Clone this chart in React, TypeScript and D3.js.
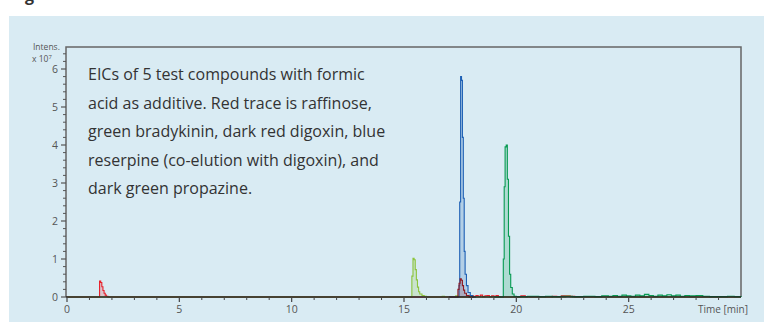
import * as d3 from "d3";

// retention times (min) and intensities (x 10^7)
const raffinoseT = [0, 1.4, 1.45, 1.5, 1.55, 1.6, 1.65, 1.7, 1.75, 1.82, 17.9, 18.0, 18.1, 18.2, 18.3, 18.4, 18.5, 18.6, 18.7, 18.8, 18.9, 19.0, 19.1, 19.2, 19.3, 20.2, 20.4, 20.6, 21.6, 21.8, 22.0, 22.4, 22.6, 30];
const raffinoseV = [0, 0, 0.42, 0.38, 0.27, 0.17, 0.1, 0.05, 0.02, 0, 0, 0.03, 0.01, 0.04, 0.02, 0.05, 0.01, 0.03, 0.04, 0.01, 0.03, 0.02, 0.04, 0.01, 0, 0.03, 0.01, 0, 0.02, 0.01, 0.03, 0.02, 0, 0];

const bradykininT = [0, 15.3, 15.35, 15.4, 15.45, 15.5, 15.55, 15.6, 15.65, 15.7, 15.8, 15.9, 16.0, 16.6, 16.7, 16.8, 17.2, 17.3, 17.4, 22.0, 22.2, 22.4, 30];
const bradykininV = [0, 0, 0.55, 1.02, 0.98, 0.72, 0.45, 0.26, 0.14, 0.08, 0.04, 0.02, 0, 0, 0.02, 0, 0, 0.03, 0, 0, 0.02, 0, 0];

const reserpineT = [17.0, 17.4, 17.45, 17.48, 17.52, 17.56, 17.6, 17.64, 17.68, 17.72, 17.78, 17.85, 17.95, 18.05, 18.2];
const reserpineV = [0, 0, 0.3, 2.5, 5.8, 5.7, 4.2, 2.6, 1.2, 0.6, 0.3, 0.12, 0.04, 0, 0];

const digoxinT = [17.0, 17.35, 17.4, 17.45, 17.5, 17.55, 17.6, 17.65, 17.7, 17.78, 17.9, 18.1];
const digoxinV = [0, 0, 0.2, 0.36, 0.48, 0.44, 0.3, 0.18, 0.1, 0.04, 0, 0];

const propazineT = [19.0, 19.38, 19.42, 19.46, 19.5, 19.55, 19.6, 19.65, 19.7, 19.75, 19.82, 19.9, 20.0, 20.5, 21.0, 21.3, 21.6, 22.0, 22.5, 23.0, 23.5, 23.8, 24.1, 24.3, 24.5, 24.7, 24.9, 25.1, 25.3, 25.5, 25.7, 25.9, 26.1, 26.3, 26.5, 26.7, 26.9, 27.1, 27.3, 27.5, 27.7, 28.0, 28.3, 28.6, 29.0, 29.4, 29.7, 30];
const propazineV = [0, 0, 1.0, 2.9, 3.95, 4.0, 3.1, 1.6, 0.6, 0.25, 0.08, 0.02, 0.01, 0.02, 0.01, 0.02, 0.01, 0.02, 0.01, 0.02, 0.01, 0.03, 0.02, 0.04, 0.02, 0.05, 0.03, 0.02, 0.05, 0.03, 0.07, 0.04, 0.02, 0.05, 0.03, 0.06, 0.03, 0.05, 0.02, 0.04, 0.03, 0.04, 0.02, 0.01, 0.01, 0.02, 0.01, 0];

const traces = [
  { name: "raffinose", t: raffinoseT, v: raffinoseV, color: "#e8202a" },
  { name: "bradykinin", t: bradykininT, v: bradykininV, color: "#8cc43c" },
  { name: "propazine", t: propazineT, v: propazineV, color: "#079a52" },
  { name: "reserpine", t: reserpineT, v: reserpineV, color: "#1d5fb4" },
  { name: "digoxin", t: digoxinT, v: digoxinV, color: "#8e1b22" },
];

const yTicks = [0, 1, 2, 3, 4, 5, 6];
const xTicks = [0, 5, 10, 15, 20, 25];

const noteLines = [
  "EICs of 5 test compounds with formic",
  "acid as additive. Red trace is raffinose,",
  "green bradykinin, dark red digoxin, blue",
  "reserpine (co-elution with digoxin), and",
  "dark green propazine.",
];

const W = 764;
const H = 322;
const m = { left: 66, top: 47, right: 741, bottom: 297 };

export default function App() {
  const x = d3.scaleLinear().domain([0, 30]).range([m.left + 1, m.right]);
  const y = d3.scaleLinear().domain([0, 6]).range([m.bottom, 69]);

  const line = d3
    .line<[number, number]>()
    .x((d) => x(d[0]))
    .y((d) => y(d[1]))
    .curve(d3.curveStepAfter);
  const area = d3
    .area<[number, number]>()
    .x((d) => x(d[0]))
    .y0(y(0))
    .y1((d) => y(d[1]))
    .curve(d3.curveStepAfter);

  const minorY = d3.range(0, 6.6, 0.2).filter((v) => Math.abs(v - Math.round(v)) > 0.01);
  const minorX = d3.range(0, 30.01, 1).filter((v) => v % 5 !== 0);
  const font = "'Open Sans', 'Noto Sans', sans-serif";

  return (
    <svg width={W} height={H} style={{ position: "absolute", left: 0, top: 0 }} fontFamily={font}>
      <rect width={W} height={H} fill="#fff" />
      <text x={25} y={1} fontSize={16} fontWeight="bold" fill="#333">g</text>
      <rect x={9} y={16} width={W - 9} height={H - 16} fill="#d9ebf3" />

      {/* frame */}
      <path
        d={`M${m.left},${m.bottom}V${m.top}H${m.right}V${m.bottom}`}
        fill="none"
        stroke="#666"
        strokeWidth={1.5}
      />

      {traces.map((tr) => {
        const pts = tr.t.map((t, i) => [t, tr.v[i]] as [number, number]);
        return (
          <g key={tr.name}>
            <path d={area(pts) ?? ""} fill={tr.color} opacity={0.2} />
            <path d={line(pts) ?? ""} fill="none" stroke={tr.color} strokeWidth={1.1} />
          </g>
        );
      })}

      {/* y axis */}
      {minorY.map((v) => (
        <line key={"my" + v} x1={m.left - 3} x2={m.left} y1={y(v)} y2={y(v)} stroke="#555" strokeWidth={1} />
      ))}
      {yTicks.map((v) => (
        <g key={"y" + v}>
          <line x1={m.left - 5} x2={m.left} y1={y(v)} y2={y(v)} stroke="#555" strokeWidth={1.2} />
          <text x={m.left - 8} y={y(v) + 4} fontSize={10.5} textAnchor="end" fill="#555">
            {v}
          </text>
        </g>
      ))}
      <text x={33} y={50} fontSize={8.5} fill="#555">Intens.</text>
      <text x={32} y={62} fontSize={8.5} fill="#555">
        x 10<tspan fontSize={6} dy={-3}>7</tspan>
      </text>

      {/* x axis */}
      <line x1={m.left} x2={m.right} y1={m.bottom} y2={m.bottom} stroke="#222" strokeWidth={1.5} />
      {minorX.map((v) => (
        <line key={"mx" + v} x1={x(v)} x2={x(v)} y1={m.bottom} y2={m.bottom + 3} stroke="#444" strokeWidth={1} />
      ))}
      {xTicks.map((v) => (
        <g key={"x" + v}>
          <line x1={x(v)} x2={x(v)} y1={m.bottom} y2={m.bottom + 5} stroke="#444" strokeWidth={1.2} />
          <text x={x(v)} y={m.bottom + 16} fontSize={10.5} textAnchor="middle" fill="#555">
            {v}
          </text>
        </g>
      ))}
      <text x={748} y={m.bottom + 16} fontSize={10} textAnchor="end" fill="#555">Time [min]</text>

      {/* note */}
      {noteLines.map((s, i) => (
        <text key={i} x={88} y={80 + i * 28.5} fontSize={16} fill="#333">
          {s}
        </text>
      ))}
    </svg>
  );
}
